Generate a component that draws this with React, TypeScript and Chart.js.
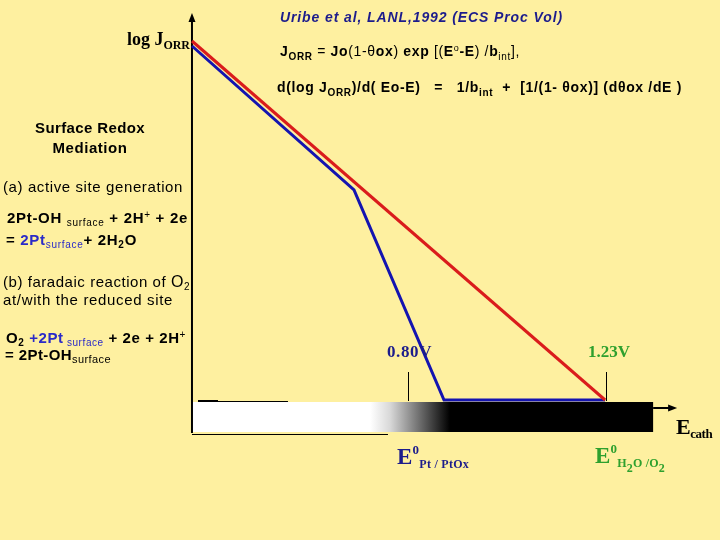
import React, { useEffect, useRef } from "react";
import { Chart, registerables } from "chart.js";

Chart.register(...registerables);

// ---- data (potential in V vs log J in arbitrary decades) ----
const redPotentials = [0.332, 1.227];
const redLogJ = [7.18, 0.0];
const bluePotentials = [0.332, 0.683, 0.878, 1.227];
const blueLogJ = [7.08, 4.2, 0.0, 0.0];
const tickPotentials = [0.8, 1.23];
const tickLabels = ["0.80V", "1.23V"];
const axisOrigin = 0.332;
const barEnd = 1.331;
const arrowEnd = 1.383;
const gradientStart = 0.718;
const gradientEnd = 0.891;

const BG = "#FEF0A0";
const RED = "#DA1C1C";
const BLUE = "#1414B0";
const NAVY = "#1c1c8c";
const BRIGHT_BLUE = "#2a2ac8";
const GREEN = "#2ea02e";
const SANS = "'Liberation Sans', Arial, sans-serif";
const SERIF = "'Liberation Serif', 'Times New Roman', serif";

type Seg = { t: string; s?: number; b?: boolean; i?: boolean; c?: string; dy?: number; f?: string };

function setFont(ctx: CanvasRenderingContext2D, sg: Seg, def: Seg) {
  const s = sg.s ?? def.s ?? 14;
  const b = sg.b ?? def.b ?? false;
  const i = sg.i ?? def.i ?? false;
  const f = sg.f ?? def.f ?? SANS;
  ctx.font = `${i ? "italic " : ""}${b ? "bold " : ""}${s}px ${f}`;
}

function drawRich(
  ctx: CanvasRenderingContext2D,
  x: number,
  y: number,
  segs: Seg[],
  def: Seg,
  width?: number,
  align: "left" | "center" = "left"
) {
  const c: any = ctx;
  c.letterSpacing = "0px";
  ctx.textAlign = "left";
  ctx.textBaseline = "alphabetic";
  let natural = 0;
  let chars = 0;
  const widths: number[] = [];
  for (const sg of segs) {
    setFont(ctx, sg, def);
    const w = ctx.measureText(sg.t).width;
    widths.push(w);
    natural += w;
    chars += Array.from(sg.t).length;
  }
  let ls = 0;
  if (width && chars > 0) {
    ls = (width - natural) / chars;
    ls = Math.max(-1.5, Math.min(3, ls));
  }
  const total = natural + ls * chars;
  let cx = align === "center" ? x - total / 2 : x;
  segs.forEach((sg, k) => {
    setFont(ctx, sg, def);
    ctx.fillStyle = sg.c ?? def.c ?? "#000";
    c.letterSpacing = `${ls}px`;
    ctx.fillText(sg.t, cx, y + (sg.dy ?? 0));
    cx += widths[k] + ls * Array.from(sg.t).length;
  });
  c.letterSpacing = "0px";
}

const decorPlugin = {
  id: "decor",
  beforeDatasetsDraw(chart: any) {
    const ctx: CanvasRenderingContext2D = chart.ctx;
    const xs = chart.scales.x;
    const ys = chart.scales.y;
    const x0 = xs.getPixelForValue(axisOrigin);
    const xb = xs.getPixelForValue(barEnd);
    const xa = xs.getPixelForValue(arrowEnd);
    const barTop = ys.getPixelForValue(-0.04);
    const barBot = ys.getPixelForValue(-0.64);
    ctx.save();
    // gradient bar
    const g = ctx.createLinearGradient(xs.getPixelForValue(gradientStart), 0, xs.getPixelForValue(gradientEnd), 0);
    g.addColorStop(0, "#ffffff");
    g.addColorStop(0.25, "#d8d8d8");
    g.addColorStop(1, "#000000");
    ctx.fillStyle = g;
    ctx.fillRect(x0, barTop, xb - x0, barBot - barTop);
    // thin edge lines
    ctx.strokeStyle = "#000";
    ctx.lineWidth = 1;
    ctx.beginPath();
    ctx.moveTo(x0, barBot + 2.5);
    ctx.lineTo(x0 + 196, barBot + 2.5);
    ctx.moveTo(x0 + 6, barTop - 0.5);
    ctx.lineTo(x0 + 96, barTop - 0.5);
    ctx.stroke();
    ctx.lineWidth = 2;
    ctx.beginPath();
    ctx.moveTo(x0 + 6, barTop - 1);
    ctx.lineTo(x0 + 26, barTop - 1);
    ctx.stroke();
    // y axis
    const yTop = ys.getPixelForValue(7.74);
    const yBot = ys.getPixelForValue(-0.66);
    ctx.lineWidth = 2;
    ctx.beginPath();
    ctx.moveTo(x0, yBot);
    ctx.lineTo(x0, yTop + 6);
    ctx.stroke();
    ctx.fillStyle = "#000";
    ctx.beginPath();
    ctx.moveTo(x0, yTop);
    ctx.lineTo(x0 - 3.5, yTop + 9);
    ctx.lineTo(x0 + 3.5, yTop + 9);
    ctx.closePath();
    ctx.fill();
    // x arrow
    const ay = ys.getPixelForValue(-0.16);
    ctx.beginPath();
    ctx.moveTo(xb, ay);
    ctx.lineTo(xa - 6, ay);
    ctx.stroke();
    ctx.beginPath();
    ctx.moveTo(xa, ay);
    ctx.lineTo(xa - 9, ay - 3.5);
    ctx.lineTo(xa - 9, ay + 3.5);
    ctx.closePath();
    ctx.fill();
    // ticks
    ctx.lineWidth = 1;
    ctx.beginPath();
    for (const p of tickPotentials) {
      const tx = Math.round(xs.getPixelForValue(p)) + 0.5;
      ctx.moveTo(tx, ys.getPixelForValue(0.56));
      ctx.lineTo(tx, ys.getPixelForValue(-0.02));
    }
    ctx.stroke();
    ctx.restore();
  },
  afterDraw(chart: any) {
    const ctx: CanvasRenderingContext2D = chart.ctx;
    const xs = chart.scales.x;
    const ys = chart.scales.y;
    ctx.save();
    const x0 = xs.getPixelForValue(axisOrigin);
    const t1 = xs.getPixelForValue(tickPotentials[0]);
    const t2 = xs.getPixelForValue(tickPotentials[1]);
    const xa = xs.getPixelForValue(arrowEnd);

    // title + formulas
    drawRich(ctx, 280, 22, [{ t: "Uribe et al, LANL,1992 (ECS Proc Vol)" }], { s: 14, b: true, i: true, c: NAVY }, 283);
    drawRich(
      ctx,
      280,
      56,
      [
        { t: "J", b: true },
        { t: "ORR", b: true, s: 10, dy: 4 },
        { t: " = " },
        { t: "Jo", b: true },
        { t: "(1-" },
        { t: "θ" },
        { t: "ox", b: true },
        { t: ") " },
        { t: "exp", b: true },
        { t: " [(" },
        { t: "E", b: true },
        { t: "o", s: 9, dy: -5 },
        { t: "-E", b: true },
        { t: ") /" },
        { t: "b", b: true },
        { t: "int", s: 10, dy: 4 },
        { t: "]," },
      ],
      { s: 14, c: "#000" },
      240
    );
    drawRich(
      ctx,
      277,
      92,
      [
        { t: "d(log J" },
        { t: "ORR", s: 10, dy: 4 },
        { t: ")/d( Eo-E)   =   1/b" },
        { t: "int", s: 10, dy: 4 },
        { t: "  +  [1/(1- θox)] (dθox /dE )" },
      ],
      { s: 14, b: true, c: "#000" },
      405
    );

    // left block
    const L: Seg = { s: 15, c: "#000" };
    drawRich(ctx, 90, 133, [{ t: "Surface Redox", b: true }], L, 110, "center");
    drawRich(ctx, 90, 153, [{ t: "Mediation", b: true }], L, 75, "center");
    drawRich(ctx, 3, 192, [{ t: "(a) active site generation" }], L, 180);
    drawRich(
      ctx,
      7,
      223,
      [
        { t: "2Pt-OH ", b: true },
        { t: "surface", s: 10, dy: 3 },
        { t: " + 2H", b: true },
        { t: "+", s: 10, dy: -5 },
        { t: " + 2e", b: true },
      ],
      L,
      181
    );
    drawRich(
      ctx,
      6,
      245,
      [
        { t: "= ", b: true },
        { t: "2Pt", b: true, c: BRIGHT_BLUE },
        { t: "surface", s: 10, dy: 3, c: BRIGHT_BLUE },
        { t: "+ 2H", b: true },
        { t: "2", b: true, s: 10, dy: 3 },
        { t: "O", b: true },
      ],
      L,
      131
    );
    drawRich(
      ctx,
      3,
      287,
      [{ t: "(b) faradaic reaction of " }, { t: "O", s: 16 }, { t: "2", s: 10, dy: 3 }],
      L,
      187
    );
    drawRich(ctx, 3, 305, [{ t: "at/with the reduced site" }], L, 170);
    drawRich(
      ctx,
      6,
      343,
      [
        { t: "O", b: true },
        { t: "2", b: true, s: 10, dy: 3 },
        { t: " +2Pt", b: true, c: BRIGHT_BLUE },
        { t: " surface", s: 10, dy: 3, c: BRIGHT_BLUE },
        { t: " + 2e + 2H", b: true },
        { t: "+", s: 10, dy: -5 },
      ],
      L,
      180
    );
    drawRich(
      ctx,
      5,
      360,
      [
        { t: "= 2Pt-OH", b: true },
        { t: "surface", s: 11, dy: 3 },
      ],
      L,
      106
    );

    // axis labels
    drawRich(
      ctx,
      x0 - 65,
      45,
      [
        { t: "log J", s: 18 },
        { t: "ORR", s: 12, dy: 4 },
      ],
      { f: SERIF, b: true, c: "#000" },
      63
    );
    drawRich(
      ctx,
      xa - 1,
      434,
      [
        { t: "E", s: 22 },
        { t: "cath", s: 13, dy: 4 },
      ],
      { f: SERIF, b: true, c: "#000" },
      36
    );

    // tick labels
    const lblY = ys.getPixelForValue(0.86);
    drawRich(ctx, t1 - 21, lblY, [{ t: tickLabels[0] }], { f: SERIF, b: true, s: 17, c: NAVY }, 45);
    drawRich(ctx, t2 - 18.5, lblY, [{ t: tickLabels[1] }], { f: SERIF, b: true, s: 17, c: GREEN }, 42);

    drawRich(
      ctx,
      t1 - 11,
      464,
      [
        { t: "E", s: 23 },
        { t: "0", s: 13, dy: -10 },
        { t: "Pt / PtOx", s: 12, dy: 4 },
      ],
      { f: SERIF, b: true, c: NAVY },
      72
    );
    drawRich(
      ctx,
      t2 - 11.5,
      463,
      [
        { t: "E", s: 23 },
        { t: "0", s: 13, dy: -10 },
        { t: "H", s: 12, dy: 4 },
        { t: "2", s: 12, dy: 9 },
        { t: "O /O", s: 12, dy: 4 },
        { t: "2", s: 12, dy: 9 },
      ],
      { f: SERIF, b: true, c: GREEN },
      70
    );
    ctx.restore();
  },
};

export default function App() {
  const ref = useRef<HTMLCanvasElement | null>(null);
  useEffect(() => {
    if (!ref.current) return;
    const chart = new Chart(ref.current, {
      type: "line",
      data: {
        datasets: [
          {
            label: "Pt-OH mediated",
            data: redPotentials.map((x, k) => ({ x, y: redLogJ[k] })),
            borderColor: RED,
            borderWidth: 3,
            pointRadius: 0,
            tension: 0,
            order: 0,
          },
          {
            label: "Reduced site",
            data: bluePotentials.map((x, k) => ({ x, y: blueLogJ[k] })),
            borderColor: BLUE,
            borderWidth: 3,
            pointRadius: 0,
            tension: 0,
            order: 1,
          },
        ],
      },
      options: {
        animation: false,
        responsive: false,
        maintainAspectRatio: false,
        layout: { padding: 0 },
        plugins: { legend: { display: false }, tooltip: { enabled: false } },
        scales: {
          x: { type: "linear", min: -0.0839, max: 1.4759, display: false },
          y: { type: "linear", min: -2.8, max: 8, display: false },
        },
      },
      plugins: [decorPlugin],
    });
    return () => chart.destroy();
  }, []);
  return (
    <div style={{ position: "fixed", left: 0, top: 0, width: 720, height: 540, background: BG }}>
      <canvas ref={ref} width={720} height={540} style={{ display: "block" }} />
    </div>
  );
}
